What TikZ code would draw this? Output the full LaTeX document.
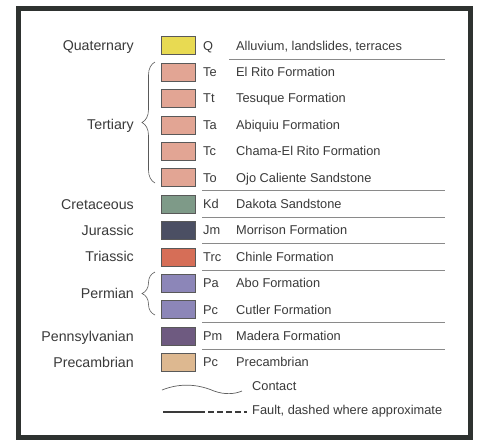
\documentclass[tikz,border=0pt]{standalone}
\usepackage{fontspec}
\setmainfont{Liberation Sans}
\usetikzlibrary{decorations.pathreplacing}
\definecolor{txt}{HTML}{3A3A3A}
\definecolor{framec}{HTML}{2E3230}
\definecolor{sepc}{HTML}{8A8A8A}
\definecolor{cQ}{HTML}{E8DA52}
\definecolor{cT}{HTML}{E2A594}
\definecolor{cKd}{HTML}{7E9A88}
\definecolor{cJm}{HTML}{4B4F63}
\definecolor{cTrc}{HTML}{D66E57}
\definecolor{cP}{HTML}{8C86B8}
\definecolor{cPm}{HTML}{6E5A80}
\definecolor{cPC}{HTML}{DDB890}
\tikzset{
  swatch/.style={draw=gray!70!black, line width=0.4pt, minimum width=34pt, minimum height=18pt, inner sep=0pt},
  abbr/.style={anchor=base west, inner sep=0pt, text=txt, font=\fontsize{12.8}{14}\selectfont},
  desc/.style={anchor=base west, inner sep=0pt, text=txt, font=\fontsize{12.8}{14}\selectfont},
  period/.style={anchor=base east, inner sep=0pt, text=txt, font=\fontsize{14.2}{16}\selectfont},
  sepline/.style={draw=sepc, line width=0.8pt},
  bracec/.style={draw=gray!70!black, line width=0.6pt, decorate, decoration={brace, amplitude=13pt, aspect=0.5}},
}
\begin{document}
\begin{tikzpicture}[x=1pt,y=-1pt]
\useasboundingbox (0,0) rectangle (477,440);
\fill[white] (0,0) rectangle (477,440);
\draw[framec, line width=5pt] (18,8.5) rectangle (470.5,437.5);
% rows
\foreach \i/\nm/\col/\ab/\de in {
  0/Q/cQ/Q/{Alluvium, landslides, terraces},
  1/Te/cT/Te/El Rito Formation,
  2/Tt/cT/Tt/Tesuque Formation,
  3/Ta/cT/Ta/Abiquiu Formation,
  4/Tc/cT/Tc/Chama-El Rito Formation,
  5/To/cT/To/Ojo Caliente Sandstone,
  6/Kd/cKd/Kd/Dakota Sandstone,
  7/Jm/cJm/Jm/Morrison Formation,
  8/Trc/cTrc/Trc/Chinle Formation,
  9/Pa/cP/Pa/Abo Formation,
  10/Pc/cP/Pc/Cutler Formation,
  11/Pm/cPm/Pm/Madera Formation,
  12/PC/cPC/Pc/Precambrian}{
  \pgfmathsetmacro{\yy}{45.5+26.4*\i}
  \node[swatch, fill=\col] (s\nm) at (178.5,\yy) {};
  \node[abbr] (a\nm) at (203,\yy+4.6) {\ab};
  \node[desc] (d\nm) at (236,\yy+4.6) {\de};
}
% period labels
\node[period] (pQ) at (134,45.5+5.1) {Quaternary};
\node[period] (pT) at (134,124.7+5.1) {Tertiary};
\node[period] (pK) at (134,203.9+5.1) {Cretaceous};
\node[period] (pJ) at (134,230.3+5.1) {Jurassic};
\node[period] (pTr) at (134,256.7+5.1) {Triassic};
\node[period] (pP) at (134,293+5.1) {Permian};
\node[period] (pPn) at (134,335.9+5.1) {Pennsylvanian};
\node[period] (pPC) at (134,362.3+5.1) {Precambrian};
% braces
\draw[bracec] (155,183) -- (155,62);
\draw[bracec] (155,315) -- (155,272);
% separators
\draw[sepline] (229,59.5) -- (445,59.5);
\foreach \yy in {190.7,217.1,243.5,269.9,322.7,349.1}{
  \draw[sepline] (202,\yy) -- (445,\yy);
}
% contact
\coordinate (c0) at (162,390);
\coordinate (c1) at (242,391);
\node[desc, anchor=west] (dC) at (252,386.5) {Contact};
\draw[gray!75!black, line width=0.7pt] (c0) .. controls (182,382) and (200,385) .. (214,391) .. controls (225,395) and (235,394) .. (c1);
% fault
\coordinate (f0) at (163,412);
\coordinate (f1) at (205,412);
\coordinate (f2) at (247,412);
\node[desc, anchor=west] (dF) at (252,411) {Fault, dashed where approximate};
\draw[txt, line width=1.4pt] (f0) -- (f1);
\draw[txt, line width=1.4pt, dash pattern=on 6pt off 3pt] (f1) ++(3,0) -- (f2);
\end{tikzpicture}
\end{document}
